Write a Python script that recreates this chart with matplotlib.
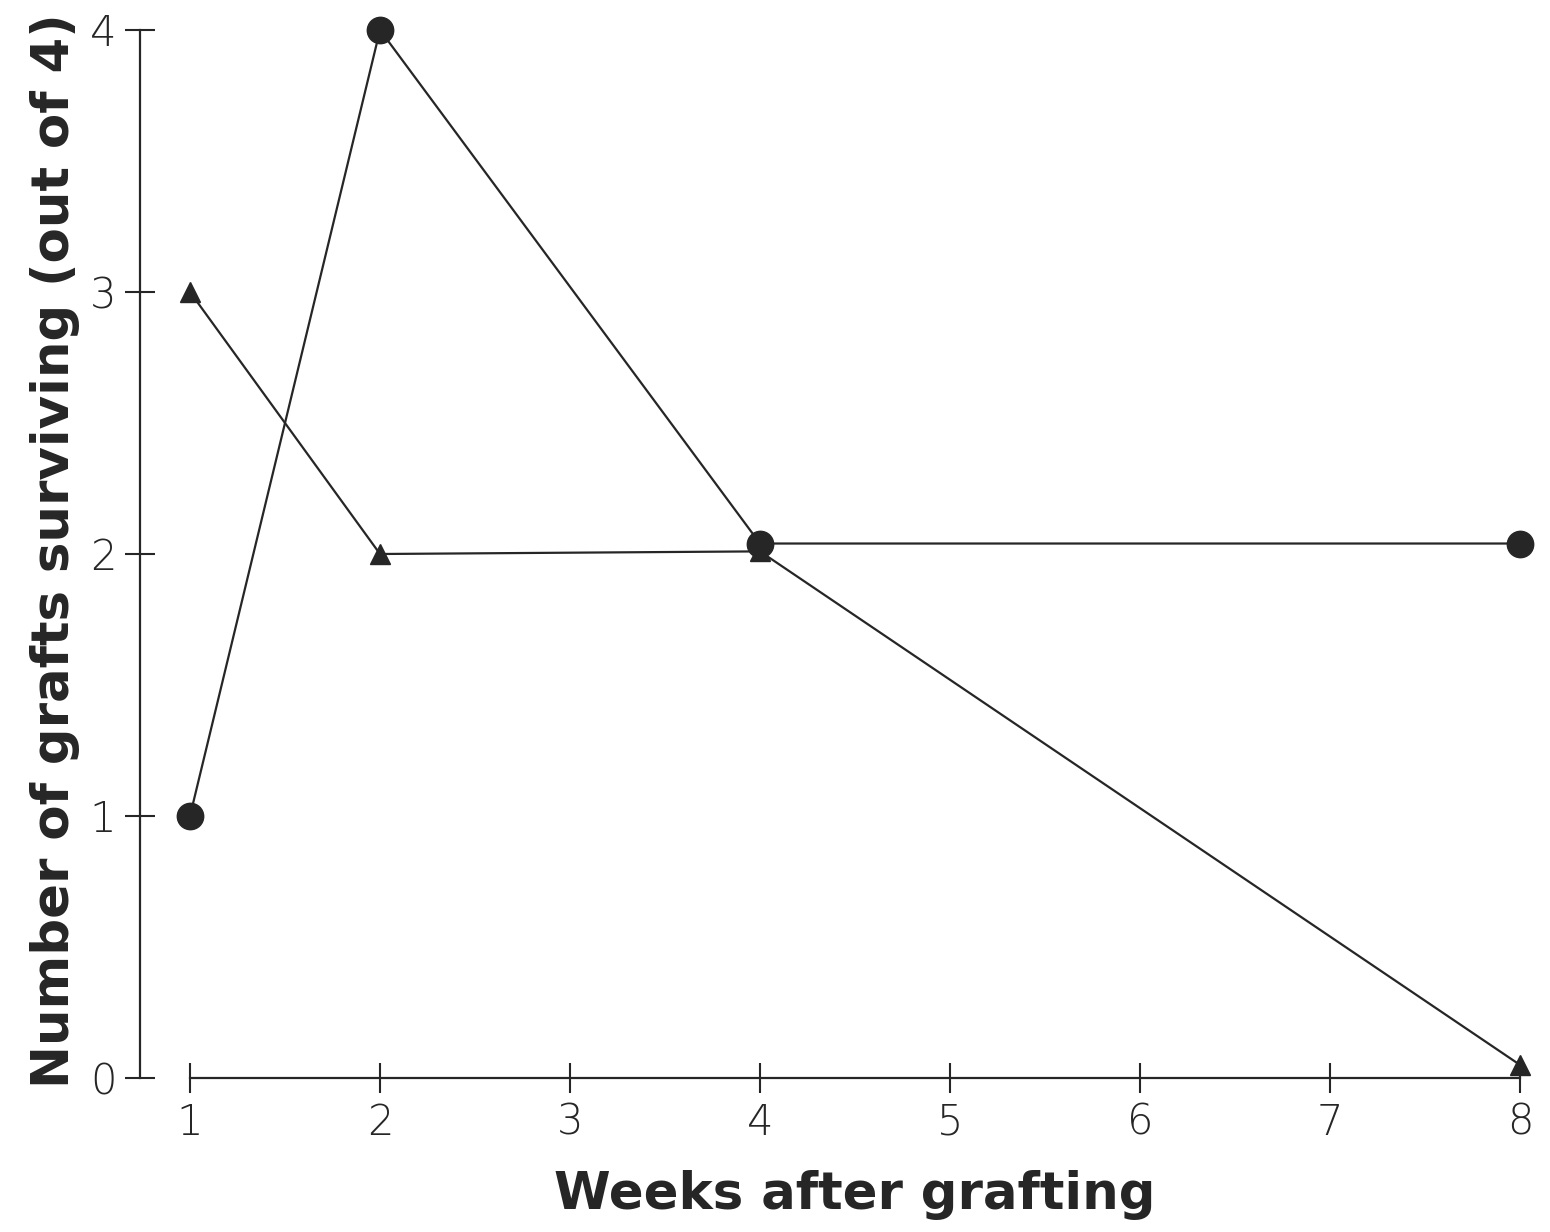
import numpy as np
import matplotlib
matplotlib.use('Agg')
import matplotlib.pyplot as plt

weeks_circle = [1, 2, 4, 8]
graft_circle = [1, 4, 2.04, 2.04]
weeks_tri = [1, 2, 4, 8]
graft_tri = [3, 2, 2.01, 0.05]
x_ticks = [1, 2, 3, 4, 5, 6, 7, 8]
y_ticks = [0, 1, 2, 3, 4]

ink = '#262626'

fig = plt.figure(figsize=(15.5, 12.32), dpi=100)
ax = fig.add_axes([140/1550, 142/1232, 1400/1550, 1070/1232])

ax.plot(weeks_circle, graft_circle, '-', color=ink, lw=1.6, marker='o', ms=19,
        mfc=ink, mec=ink, clip_on=False, zorder=3)
ax.plot(weeks_tri, graft_tri, '-', color=ink, lw=1.6, marker='^', ms=15,
        mfc=ink, mec=ink, clip_on=False, zorder=3)

ax.set_xlim(1 - 50/190, 8 + 20/190)
ax.set_ylim(-12/262, 4 + 10/262)

for s in ['top', 'right']:
    ax.spines[s].set_visible(False)
ax.spines['left'].set_position(('axes', 0))
ax.spines['left'].set_bounds(0, 4)
ax.spines['bottom'].set_position(('data', 0))
ax.spines['bottom'].set_bounds(1, 8)
for s in ['left', 'bottom']:
    ax.spines[s].set_linewidth(1.6)
    ax.spines[s].set_color(ink)

ax.set_xticks(x_ticks)
ax.set_yticks(y_ticks)
ax.tick_params(direction='inout', length=22, width=1.5, color=ink,
               labelsize=30, labelcolor=ink, pad=6)
for lab in ax.get_xticklabels() + ax.get_yticklabels():
    lab.set_fontweight('light')

fig.text(855/1550, 0.03, 'Weeks after grafting', ha='center', va='center',
         fontsize=37, fontweight='bold', family='DejaVu Sans', color=ink)
fig.text(55/1550, 0.553, 'Number of grafts surviving (out of 4)', ha='center',
         va='center', rotation=90, fontsize=37, fontweight='bold',
         family='DejaVu Sans', color=ink)

fig.savefig('out.png', dpi=100, facecolor='white')
